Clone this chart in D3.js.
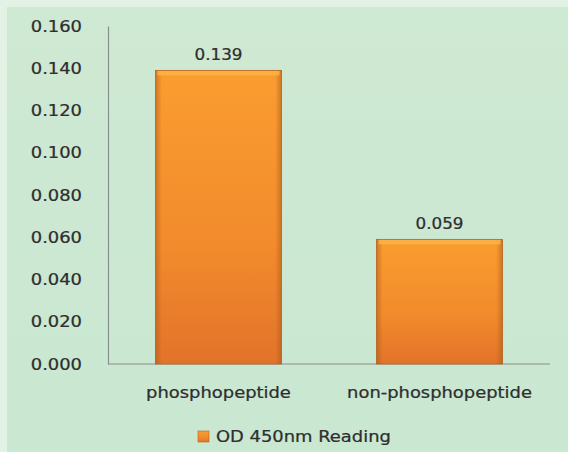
<!DOCTYPE html>
<html><head><meta charset="utf-8">
<script src="https://cdn.jsdelivr.net/npm/d3@7"></script>
<style>html,body{margin:0;padding:0;background:#fff;}svg{display:block;}</style>
</head><body>
<script>
const categories = ["phosphopeptide", "non-phosphopeptide"];
const values = [0.139, 0.059];
const valueLabels = ["0.139", "0.059"];
const yTicks = [0, 0.02, 0.04, 0.06, 0.08, 0.10, 0.12, 0.14, 0.16];
const seriesName = "OD 450nm Reading";

const W = 568, H = 452;
const SX = 1.12;
const svg = d3.select("body").append("svg").attr("width", W).attr("height", H);
const defs = svg.append("defs");
const g1 = defs.append("linearGradient").attr("id","bg").attr("x1",0).attr("y1",0).attr("x2",0).attr("y2",1);
g1.append("stop").attr("offset","0").attr("stop-color","#cfe9d3");
g1.append("stop").attr("offset","1").attr("stop-color","#c9e7d1");
const gb = defs.append("linearGradient").attr("id","bar").attr("x1",0).attr("y1",0).attr("x2",0).attr("y2",1);
gb.append("stop").attr("offset","0").attr("stop-color","#fa9d30");
gb.append("stop").attr("offset","0.6").attr("stop-color","#f28b2c");
gb.append("stop").attr("offset","1").attr("stop-color","#e2732a");
const gh = defs.append("linearGradient").attr("id","barh").attr("x1",0).attr("y1",0).attr("x2",1).attr("y2",0);
gh.append("stop").attr("offset","0").attr("stop-color","#a85a1c").attr("stop-opacity",0.55);
gh.append("stop").attr("offset","0.05").attr("stop-color","#a85a1c").attr("stop-opacity",0);
gh.append("stop").attr("offset","0.95").attr("stop-color","#a85a1c").attr("stop-opacity",0);
gh.append("stop").attr("offset","1").attr("stop-color","#a85a1c").attr("stop-opacity",0.55);

svg.append("rect").attr("width",W).attr("height",H).attr("fill","#e2f2e4");
svg.append("rect").attr("x",7).attr("y",7).attr("width",W-7).attr("height",H-7).attr("fill","url(#bg)");

const m = {l:108, r:550, t:26, b:364};
const y = d3.scaleLinear().domain([0,0.16]).range([m.b, m.t]);
const x = d3.scaleBand().domain(categories).range([m.l, m.r]).paddingInner(0.43).paddingOuter(0.215);

const font = "'DejaVu Sans', Verdana, sans-serif";
const txtCol = "#2e2e2e";
function label(sel, tx, ty, anchor, size, str){
  return sel.append("text").attr("transform",`translate(${tx},${ty}) scale(${SX},1)`)
    .attr("text-anchor",anchor).attr("font-family",font).attr("font-size",size)
    .attr("fill",txtCol).attr("stroke",txtCol).attr("stroke-width",0.25).text(str);
}

const yAxis = svg.append("g").attr("transform",`translate(${m.l},0)`)
  .call(d3.axisLeft(y).tickValues(yTicks).tickFormat(d3.format(".3f")).tickSize(0).tickPadding(26));
yAxis.select(".domain").attr("stroke","#8a8f8b").attr("stroke-width",1.2);
yAxis.selectAll("text").attr("x",null).attr("transform",`translate(-26,0) scale(${SX},1)`)
  .attr("font-family",font).attr("font-size",16).attr("fill",txtCol).attr("stroke",txtCol).attr("stroke-width",0.25);

svg.append("line").attr("x1",m.l).attr("x2",m.r).attr("y1",m.b).attr("y2",m.b).attr("stroke","#8a8f8b").attr("stroke-width",1.2);

const bars = svg.append("g");
categories.forEach((c,i)=>{
  const bx = x(c), bw = x.bandwidth(), by = y(values[i]), bh = y(0)-y(values[i]);
  bars.append("rect").attr("x",bx).attr("y",by).attr("width",bw).attr("height",bh).attr("fill","url(#bar)");
  bars.append("rect").attr("x",bx).attr("y",by).attr("width",bw).attr("height",bh).attr("fill","url(#barh)");
  bars.append("rect").attr("x",bx+2).attr("y",by).attr("width",bw-4).attr("height",5).attr("fill","#fdb548").attr("opacity",0.8);
  bars.append("rect").attr("x",bx).attr("y",by).attr("width",bw).attr("height",bh).attr("fill","none").attr("stroke","#b5631f").attr("stroke-width",0.8);
  label(svg, bx+bw/2, by-10, "middle", 15, valueLabels[i]);
  label(svg, bx+bw/2, 398, "middle", 16, c);
});

svg.append("rect").attr("x",198).attr("y",431).attr("width",11).attr("height",11).attr("fill","url(#bar)").attr("stroke","#b5631f").attr("stroke-width",0.6);
label(svg, 216, 442, "start", 16, seriesName);
</script>
</body></html>
